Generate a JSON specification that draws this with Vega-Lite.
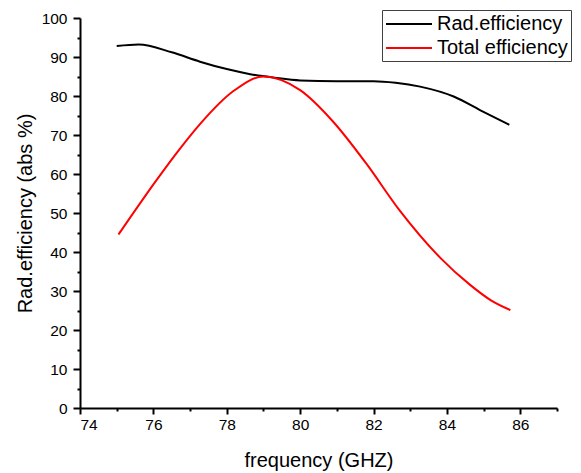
{
  "$schema": "https://vega.github.io/schema/vega-lite/v6.json",
  "width": 477,
  "height": 390,
  "autosize": {"type": "none"},
  "padding": {"left": 80, "top": 18, "right": 24, "bottom": 65},
  "background": "white",
  "config": {
    "view": {"stroke": null},
    "font": "Liberation Sans",
    "axis": {
      "domainColor": "black",
      "domainWidth": 2,
      "tickColor": "black",
      "tickWidth": 2,
      "labelColor": "black",
      "labelFont": "Liberation Sans",
      "labelFontSize": 15.5,
      "titleFont": "Liberation Sans",
      "titleFontSize": 20,
      "titleFontWeight": "normal",
      "titleColor": "black",
      "grid": false
    }
  },
  "data": {
    "values": [
      {"f": 75.0, "v": 92.8, "s": "Rad.efficiency"},
      {"f": 75.6, "v": 93.2, "s": "Rad.efficiency"},
      {"f": 76.5, "v": 91.2, "s": "Rad.efficiency"},
      {"f": 77.27, "v": 88.8, "s": "Rad.efficiency"},
      {"f": 78.0, "v": 86.9, "s": "Rad.efficiency"},
      {"f": 78.64, "v": 85.6, "s": "Rad.efficiency"},
      {"f": 79.3, "v": 84.7, "s": "Rad.efficiency"},
      {"f": 80.0, "v": 84.0, "s": "Rad.efficiency"},
      {"f": 81.0, "v": 83.8, "s": "Rad.efficiency"},
      {"f": 82.0, "v": 83.8, "s": "Rad.efficiency"},
      {"f": 82.6, "v": 83.4, "s": "Rad.efficiency"},
      {"f": 83.27, "v": 82.4, "s": "Rad.efficiency"},
      {"f": 84.2, "v": 79.8, "s": "Rad.efficiency"},
      {"f": 84.9, "v": 76.4, "s": "Rad.efficiency"},
      {"f": 85.7, "v": 72.6, "s": "Rad.efficiency"},
      {"f": 75.05, "v": 44.5, "s": "Total efficiency"},
      {"f": 76.09, "v": 58.5, "s": "Total efficiency"},
      {"f": 76.7, "v": 66.2, "s": "Total efficiency"},
      {"f": 77.27, "v": 72.8, "s": "Total efficiency"},
      {"f": 78.2, "v": 81.4, "s": "Total efficiency"},
      {"f": 79.0, "v": 85.0, "s": "Total efficiency"},
      {"f": 80.0, "v": 81.5, "s": "Total efficiency"},
      {"f": 80.9, "v": 73.4, "s": "Total efficiency"},
      {"f": 81.8, "v": 62.7, "s": "Total efficiency"},
      {"f": 82.7, "v": 50.8, "s": "Total efficiency"},
      {"f": 83.82, "v": 38.5, "s": "Total efficiency"},
      {"f": 84.64, "v": 31.5, "s": "Total efficiency"},
      {"f": 85.2, "v": 27.6, "s": "Total efficiency"},
      {"f": 85.73, "v": 25.1, "s": "Total efficiency"}
    ]
  },
  "mark": {"type": "line", "strokeWidth": 2, "interpolate": "monotone"},
  "encoding": {
    "x": {"field": "f", "type": "quantitative",
      "scale": {"domain": [74, 87], "nice": false, "zero": false},
      "axis": {
        "values": [74, 75, 76, 77, 78, 79, 80, 81, 82, 83, 84, 85, 86, 87],
        "labelExpr": "datum.value % 2 === 0 ? datum.label : ''",
        "tickSize": {"condition": {"test": "datum.value % 2 === 0", "value": 6}, "value": 3},
        "labelPadding": 3,
        "title": "frequency (GHZ)",
        "titlePadding": 18
      }},
    "y": {"field": "v", "type": "quantitative",
      "scale": {"domain": [0, 100], "nice": false},
      "axis": {
        "values": [0, 5, 10, 15, 20, 25, 30, 35, 40, 45, 50, 55, 60, 65, 70, 75, 80, 85, 90, 95, 100],
        "labelExpr": "datum.value % 10 === 0 ? datum.label : ''",
        "tickSize": {"condition": {"test": "datum.value % 10 === 0", "value": 7}, "value": 3},
        "labelPadding": 6,
        "title": "Rad.efficiency (abs %)",
        "titlePadding": 6
      }},
    "color": {"field": "s", "type": "nominal",
      "scale": {"domain": ["Rad.efficiency", "Total efficiency"], "range": ["#000000", "#ff0000"]},
      "legend": {
        "title": null,
        "orient": "none",
        "legendX": 302,
        "legendY": -8,
        "direction": "vertical",
        "strokeColor": "#404040",
        "fillColor": "white",
        "padding": 3,
        "symbolType": "M-1,0H3.6",
        "symbolSize": 400,
        "symbolStrokeWidth": 2,
        "labelFontSize": 20,
        "labelFont": "Liberation Sans",
        "labelColor": "black",
        "labelOffset": 30,
        "rowPadding": 3
      }}
  }
}
